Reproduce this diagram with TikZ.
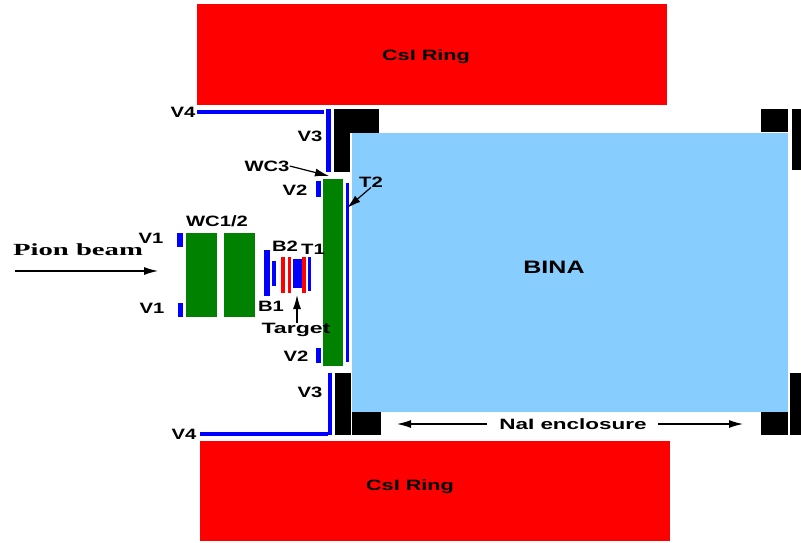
\documentclass[tikz,border=0pt]{standalone}
\usepackage{fontspec}
\setmainfont{Liberation Sans}
\newfontfamily\beamfont{Liberation Serif}
\usetikzlibrary{arrows.meta}
\definecolor{ringred}{RGB}{255,0,0}
\definecolor{vetoblue}{RGB}{0,0,255}
\definecolor{wcgreen}{RGB}{0,130,0}
\definecolor{binablue}{RGB}{135,206,255}
\tikzset{
  tag/.style={inner sep=0pt,xscale=1.35,transform shape,font=\bfseries\fontsize{15}{15}\selectfont},
  flow/.style={-{Latex[length=14pt,width=8pt]},line width=1.2pt}
}
\begin{document}
\begin{tikzpicture}[x=1pt,y=-1pt]
\useasboundingbox (0,0) rectangle (801,542);
\fill[binablue] (352,133) rectangle (788,412); % BINA
\foreach \xa/\ya/\xb/\yb in {197/4/667/105,200/441/670/541}
\fill[ringred] (\xa,\ya) rectangle (\xb,\yb);
\foreach \xa/\ya/\xb/\yb in {334/109/349.6/172,350.4/109/379/132.6,335/373/351/435,352/412.4/381/435,
  761/109/788/132,792/109/801/170,761/412/788/435,790/373/801/435}
\fill[black] (\xa,\ya) rectangle (\xb,\yb);
\foreach \xa/\ya/\xb/\yb in {186/233/217/317,224/233/255/317,323/179/343/366}
\fill[wcgreen] (\xa,\ya) rectangle (\xb,\yb);
\foreach \xa/\ya/\xb/\yb in {197/110/324/113.5,326/109/331/172,200/432/328/436,328/373/332/435,
  177/233/182.5/247,177.5/303/183/317,316/181/321/197,316/348/321/363,346/183/349/362,
  264/250/270/296,272/261/275.5/286,293/259/302/288,308/257/311/291}
\fill[vetoblue] (\xa,\ya) rectangle (\xb,\yb);
\foreach \xa/\xb in {281/285,288/291,302/306}
\fill[ringred] (\xa,257) rectangle (\xb,293);
% labels
\node[tag,xscale=1.07] (ringtop) at (426,57) {CsI Ring};
\node[tag,xscale=1.07] (ringbot) at (410,487) {CsI Ring};
\node[tag,xscale=1.03,font=\bfseries\fontsize{18}{18}\selectfont] (bina) at (554,267) {BINA};
\node[tag,xscale=1.11] (enclosure) at (573,424) {NaI enclosure};
\node[tag,xscale=1.25,font=\beamfont\bfseries\fontsize{17}{17}\selectfont] (beam) at (78,250) {Pion beam};
\node[tag] (vfourtop) at (183,112) {V4};
\node[tag] (vfourbot) at (184,434) {V4};
\node[tag] (vthreetop) at (310,136) {V3};
\node[tag] (vthreebot) at (310,392) {V3};
\node[tag] (vtwotop) at (295,190) {V2};
\node[tag] (vtwobot) at (296,356) {V2};
\node[tag] (vonetop) at (151,238) {V1};
\node[tag] (vonebot) at (152,308) {V1};
\node[tag] (wcthree) at (267,166) {WC3};
\node[tag] (wcone) at (217,221) {WC1/2};
\node[tag] (tone) at (313,249) {T1};
\node[tag] (ttwo) at (371,182) {T2};
\node[tag] (bone) at (271,306) {B1};
\node[tag] (btwo) at (285,246) {B2};
\node[tag,xscale=1.14] (target) at (296,330) {Target};
% arrows
\coordinate (beamfrom) at (15,271);
\coordinate (beamto) at (158,271);
\coordinate (wctip) at (329,176);
\coordinate (ttip) at (347,208);
\coordinate (targettip) at (297,295);
\coordinate (leftend) at (397,424);
\coordinate (rightend) at (743,424);
\coordinate (leftstart) at (487,424);
\coordinate (rightstart) at (658,424);
\draw[flow] (beamfrom) -- (beamto);
\draw[flow] (wcthree.east) -- (wctip);
\draw[flow] (ttwo.south) -- (ttip);
\draw[flow] (target.north -| targettip) -- (targettip);
\draw[flow] (leftstart) -- (leftend);
\draw[flow] (rightstart) -- (rightend);
\end{tikzpicture}
\end{document}
